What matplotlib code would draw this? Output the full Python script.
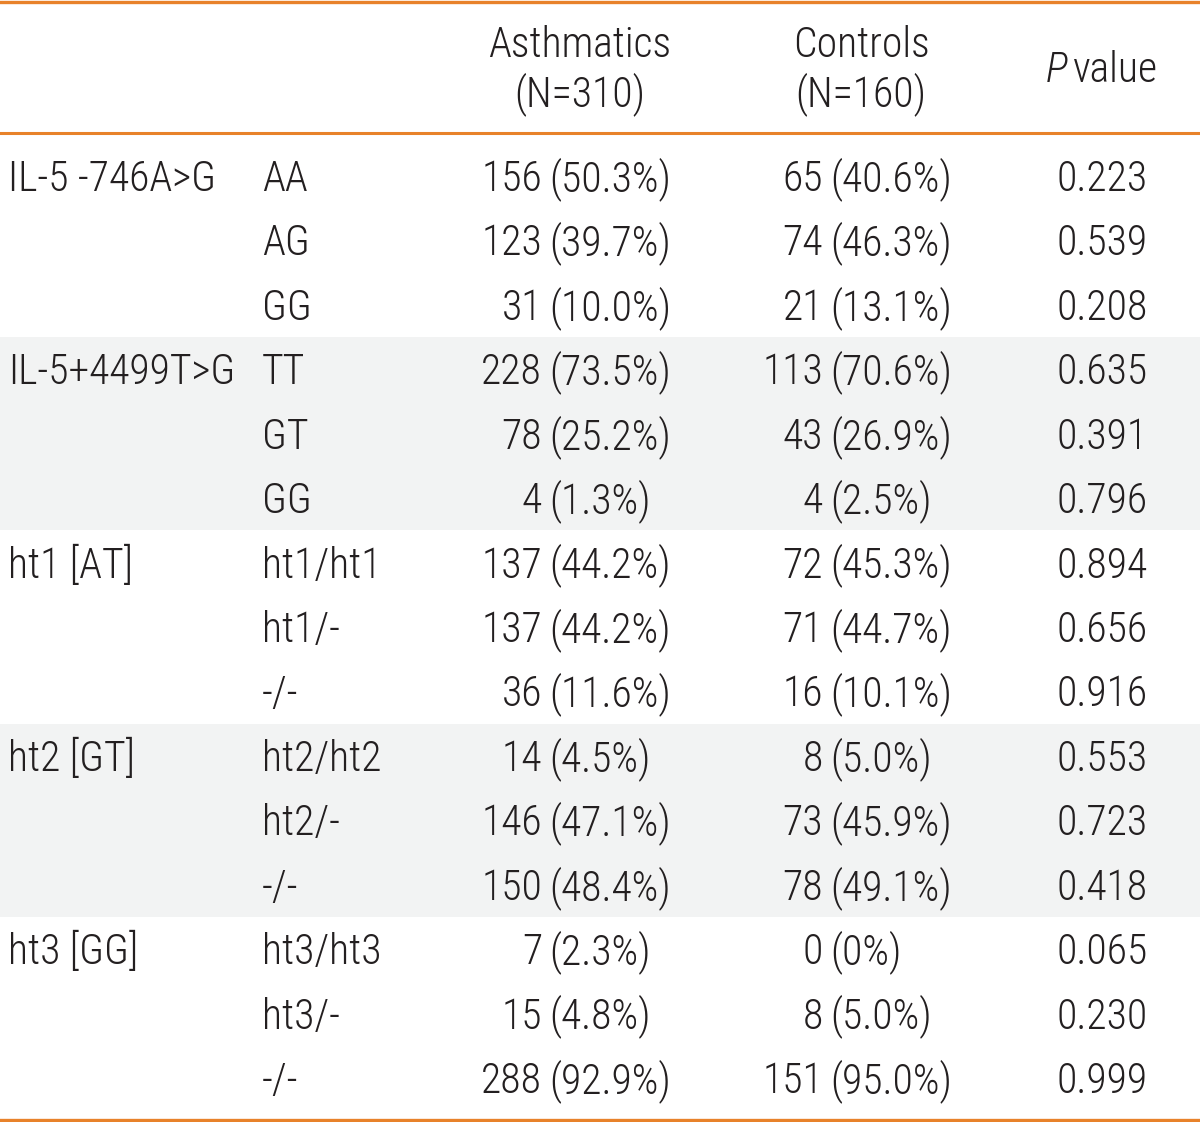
import matplotlib
matplotlib.use("Agg")
import matplotlib.pyplot as plt

# table contents
groups = ["IL-5 -746A>G", "IL-5+4499T>G", "ht1 [AT]", "ht2 [GT]", "ht3 [GG]"]
genotypes = [
    ["AA", "AG", "GG"],
    ["TT", "GT", "GG"],
    ["ht1/ht1", "ht1/-", "-/-"],
    ["ht2/ht2", "ht2/-", "-/-"],
    ["ht3/ht3", "ht3/-", "-/-"],
]
asth_n = [156, 123, 31, 228, 78, 4, 137, 137, 36, 14, 146, 150, 7, 15, 288]
asth_pct = ["50.3%", "39.7%", "10.0%", "73.5%", "25.2%", "1.3%", "44.2%", "44.2%",
            "11.6%", "4.5%", "47.1%", "48.4%", "2.3%", "4.8%", "92.9%"]
ctrl_n = [65, 74, 21, 113, 43, 4, 72, 71, 16, 8, 73, 78, 0, 8, 151]
ctrl_pct = ["40.6%", "46.3%", "13.1%", "70.6%", "26.9%", "2.5%", "45.3%", "44.7%",
            "10.1%", "5.0%", "45.9%", "49.1%", "0%", "5.0%", "95.0%"]
p_values = ["0.223", "0.539", "0.208", "0.635", "0.391", "0.796", "0.894", "0.656",
            "0.916", "0.553", "0.723", "0.418", "0.065", "0.230", "0.999"]
headers = [("Asthmatics", "(N=310)"), ("Controls", "(N=160)")]

orange = "#e8822a"
shade = "#f2f3f3"
ink = "#231f20"
font = dict(family="Roboto Condensed", weight=300, color=ink, fontsize=30)

fig = plt.figure(figsize=(12, 11.22), dpi=100)
ax = fig.add_axes([0, 0, 1, 1])
ax.set_xlim(0, 1200)
ax.set_ylim(1122, 0)
ax.axis("off")

row0 = 176
row_h = 64.43
base = 15  # baseline offset below row centre

# shaded bands for every other group
for g in range(len(groups)):
    if g % 2 == 1:
        ax.axhspan(row0 + row_h * (3 * g - 0.5), row0 + row_h * (3 * g + 2.5),
                   color=shade, lw=0, zorder=0)

ax.axhline(2, color=orange, lw=2.4)
ax.axhline(133, color=orange, lw=2.2)
ax.axhline(1119.5, color=orange, lw=2.4)

# header
for x, (top, bottom) in zip([580, 861], headers):
    ax.text(x, 57, top, ha="center", va="baseline", **font)
    ax.text(x, 106, bottom, ha="center", va="baseline", **font)
ax.text(1067, 82, "P", ha="right", va="baseline", style="italic", **font)
ax.text(1073, 82, "value", ha="left", va="baseline", **font)

i = 0
for g, name in enumerate(groups):
    for k, gt in enumerate(genotypes[g]):
        y = row0 + row_h * i + base
        if k == 0:
            ax.text(8, y, name, ha="left", va="baseline", **font)
        ax.text(262, y, gt, ha="left", va="baseline", **font)
        ax.text(542, y, str(asth_n[i]), ha="right", va="baseline", **font)
        ax.text(549, y, "(" + asth_pct[i] + ")", ha="left", va="baseline", **font)
        ax.text(823, y, str(ctrl_n[i]), ha="right", va="baseline", **font)
        ax.text(830, y, "(" + ctrl_pct[i] + ")", ha="left", va="baseline", **font)
        ax.text(1102, y, p_values[i], ha="center", va="baseline", **font)
        i += 1

fig.savefig("out.png", dpi=100)
